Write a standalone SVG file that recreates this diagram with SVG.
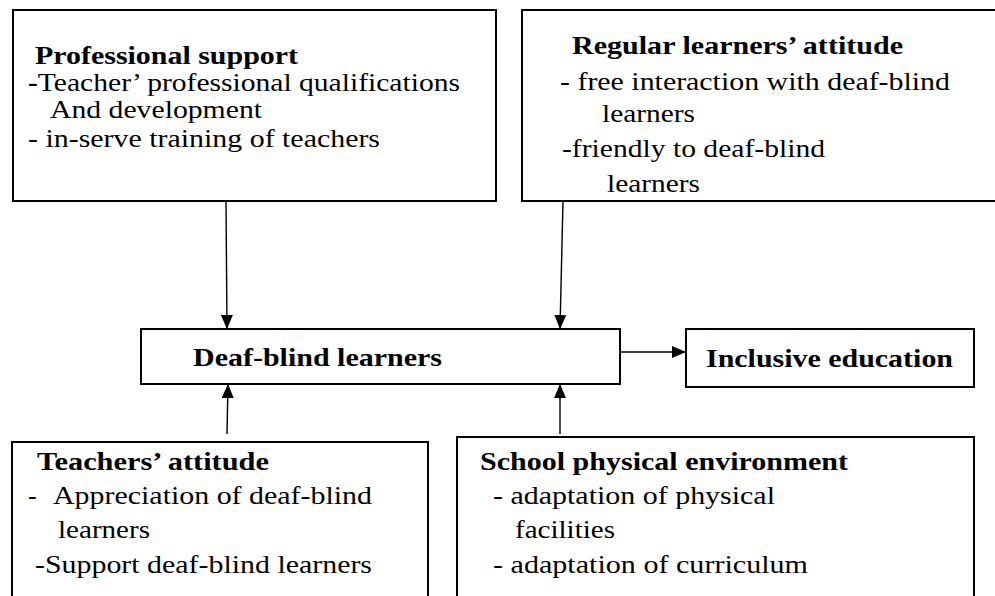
<svg xmlns="http://www.w3.org/2000/svg" width="995" height="596" viewBox="0 0 995 596">
<style>
.box{fill:#fff;stroke:#000;stroke-width:2}
.c{stroke:#000;stroke-width:1.4;fill:none;marker-end:url(#ah)}
</style>
<defs>
<marker id="ah" markerUnits="userSpaceOnUse" markerWidth="14" markerHeight="12" refX="14" refY="6" orient="auto">
<path d="M0,0 L14,6 L0,12 z" fill="#000"/>
</marker>
</defs>
<rect width="995" height="596" fill="#fff"/>
<g id="connectors">
<line class="c" x1="226" y1="201" x2="227" y2="329"/>
<line class="c" x1="563" y1="201" x2="560" y2="329"/>
<line class="c" x1="620" y1="352" x2="686" y2="352"/>
<line class="c" x1="227" y1="434" x2="228" y2="384"/>
<line class="c" x1="560" y1="434" x2="560" y2="384"/>
</g>
<g font-family="Liberation Serif, serif" font-size="26" fill="#000">
<g id="professional-support">
<rect class="box" x="13" y="10" width="483" height="191"/>
<text font-weight="bold" x="35" y="64" textLength="263" lengthAdjust="spacingAndGlyphs">Professional support</text>
<text x="28" y="91" textLength="432" lengthAdjust="spacingAndGlyphs"><tspan font-weight="bold">-</tspan>Teacher’ professional qualifications</text>
<text x="50" y="118" textLength="212" lengthAdjust="spacingAndGlyphs">And development</text>
<text x="28" y="147" textLength="352" lengthAdjust="spacingAndGlyphs">- in-serve training of teachers</text>
</g>
<g id="regular-learners-attitude">
<rect class="box" x="522" y="10" width="480" height="191"/>
<text font-weight="bold" x="572" y="54" textLength="331" lengthAdjust="spacingAndGlyphs">Regular learners’ attitude</text>
<text x="560" y="90" textLength="390" lengthAdjust="spacingAndGlyphs">- free interaction with deaf-blind</text>
<text x="602" y="122" textLength="93" lengthAdjust="spacingAndGlyphs">learners</text>
<text x="562" y="157" textLength="263" lengthAdjust="spacingAndGlyphs">-friendly to deaf-blind</text>
<text x="607" y="192" textLength="93" lengthAdjust="spacingAndGlyphs">learners</text>
</g>
<g id="deaf-blind-learners">
<rect class="box" x="141" y="329" width="479" height="55"/>
<text font-weight="bold" x="193" y="366" textLength="249" lengthAdjust="spacingAndGlyphs">Deaf-blind learners</text>
</g>
<g id="inclusive-education">
<rect class="box" x="686" y="329" width="288" height="58"/>
<text font-weight="bold" x="706" y="367" textLength="247" lengthAdjust="spacingAndGlyphs">Inclusive education</text>
</g>
<g id="teachers-attitude">
<rect class="box" x="12" y="442" width="416" height="170"/>
<text font-weight="bold" x="37" y="470" textLength="232" lengthAdjust="spacingAndGlyphs">Teachers’ attitude</text>
<text x="28" y="504">-</text>
<text x="53" y="504" textLength="319" lengthAdjust="spacingAndGlyphs">Appreciation of deaf-blind</text>
<text x="58" y="538" textLength="92" lengthAdjust="spacingAndGlyphs">learners</text>
<text x="35" y="573" textLength="337" lengthAdjust="spacingAndGlyphs">-Support deaf-blind learners</text>
</g>
<g id="school-physical-environment">
<rect class="box" x="457" y="437" width="517" height="175"/>
<text font-weight="bold" x="480" y="470" textLength="368" lengthAdjust="spacingAndGlyphs">School physical environment</text>
<text x="493" y="504" textLength="282" lengthAdjust="spacingAndGlyphs">- adaptation of physical</text>
<text x="515" y="538" textLength="100" lengthAdjust="spacingAndGlyphs">facilities</text>
<text x="493" y="573" textLength="315" lengthAdjust="spacingAndGlyphs">- adaptation of curriculum</text>
</g>
</g>
</svg>
